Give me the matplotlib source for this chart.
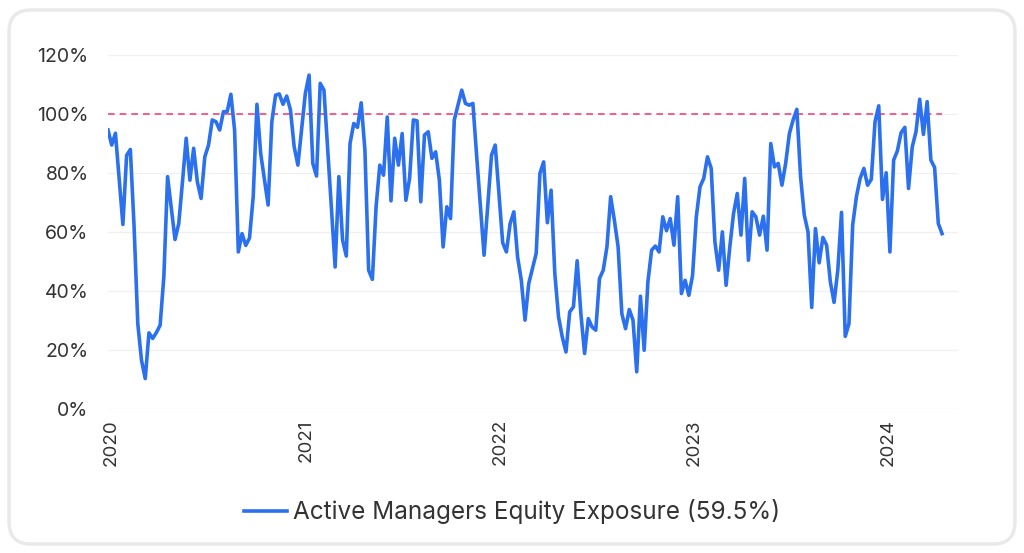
import numpy as np
import pandas as pd
import matplotlib
matplotlib.use("Agg")
import matplotlib.pyplot as plt
import matplotlib.dates as mdates
from matplotlib.patches import FancyBboxPatch
from matplotlib.lines import Line2D
from matplotlib.ticker import FuncFormatter
from matplotlib.transforms import IdentityTransform

plt.rcParams['font.family'] = ['Inter', 'DejaVu Sans']

# weekly readings, first week ending 2019-12-26
start_date = "2019-12-26"
exposure = [
    94.6, 89.5, 93.5, 78.0, 62.6, 86.0, 88.0, 62.0, 29.0, 16.6,
    10.4, 25.9, 24.0, 26.0, 28.5, 44.9, 78.8, 68.0, 57.5, 62.9,
    77.0, 91.8, 77.6, 88.4, 77.0, 71.4, 85.5, 89.5, 98.0, 97.4,
    94.6, 100.8, 100.8, 106.7, 94.6, 53.3, 59.5, 55.5, 58.0, 72.0,
    103.3, 86.7, 78.0, 69.2, 97.4, 106.4, 106.8, 103.3, 106.1, 101.4,
    88.9, 82.7, 95.0, 107.0, 113.2, 83.3, 79.0, 110.4, 108.1, 88.0,
    68.0, 48.2, 78.8, 57.3, 51.9, 90.0, 96.8, 95.5, 103.8, 87.8,
    47.1, 44.0, 68.6, 82.7, 79.3, 99.0, 70.6, 91.8, 82.7, 93.4,
    70.8, 78.2, 98.0, 97.7, 70.3, 92.9, 94.0, 85.0, 87.2, 77.6,
    55.0, 68.6, 64.6, 98.0, 103.0, 108.1, 103.6, 103.0, 103.6, 86.0,
    69.0, 52.2, 69.0, 86.1, 89.5, 73.0, 56.4, 53.3, 62.9, 66.9,
    51.6, 43.7, 30.2, 42.6, 47.7, 52.8, 79.9, 83.8, 63.2, 74.2,
    46.0, 31.3, 24.5, 19.4, 33.0, 34.7, 50.3, 32.4, 18.9, 30.7,
    27.9, 26.8, 44.3, 47.1, 55.0, 72.0, 64.0, 55.0, 32.4, 27.3,
    33.8, 30.2, 12.7, 38.3, 20.0, 43.2, 53.9, 55.3, 53.3, 65.2,
    60.5, 64.6, 55.6, 72.0, 39.2, 43.7, 38.6, 45.4, 65.2, 75.4,
    78.2, 85.5, 81.6, 56.7, 47.1, 60.1, 42.0, 55.0, 66.3, 73.1,
    59.0, 78.2, 50.5, 66.9, 65.2, 59.0, 65.4, 53.9, 90.0, 82.1,
    83.3, 75.9, 83.3, 93.4, 98.0, 101.6, 78.8, 65.8, 60.1, 34.5,
    61.2, 49.6, 58.2, 55.6, 43.2, 36.2, 47.1, 66.7, 24.7, 29.0,
    62.4, 72.0, 78.2, 81.6, 75.9, 77.9, 97.4, 102.8, 71.1, 80.1,
    53.3, 84.4, 87.5, 93.7, 95.5, 74.8, 88.9, 94.0, 105.0, 93.1,
    104.2, 84.4, 81.9, 62.9, 59.5,
]
reference_level = 100
y_ticks = [0, 20, 40, 60, 80, 100, 120]
legend_label = "Active Managers Equity Exposure (59.5%)"

dates = pd.date_range(start_date, periods=len(exposure), freq="7D")

W, H = 1024, 553
fig = plt.figure(figsize=(W / 100, H / 100), dpi=100)
fig.patch.set_facecolor("white")

# rounded card behind the chart
card = FancyBboxPatch((9, 9), W - 18, H - 19,
                      boxstyle="round,pad=0,rounding_size=22",
                      transform=IdentityTransform(),
                      facecolor="white", edgecolor="#e9e9e9", linewidth=2.5,
                      zorder=-10)
fig.patches.append(card)

ax = fig.add_axes([108 / W, 1 - 409.3 / H, 850 / W, (409.3 - 55) / H])
ax.set_facecolor("none")

line_color = "#2b70ee"
ax.plot(dates, exposure, color=line_color, linewidth=2.6, solid_joinstyle="round", zorder=3)
ax.plot([dates[0], dates[-1]], [reference_level, reference_level],
        color="#f0457a", linewidth=1.2, linestyle=(0, (4, 3)), zorder=2)

ax.set_xlim(dates[0], dates[-1] + pd.Timedelta(days=30))
ax.set_ylim(0, 120)
ax.set_yticks(y_ticks)
ax.yaxis.set_major_formatter(FuncFormatter(lambda v, p: f"{v:.0f}%"))
ax.xaxis.set_major_locator(mdates.YearLocator())
ax.xaxis.set_major_formatter(mdates.DateFormatter("%Y"))

ax.grid(axis="y", color="#f0f0f0", linewidth=1)
ax.set_axisbelow(True)
for s in ax.spines.values():
    s.set_visible(False)
ax.tick_params(axis="y", length=0, pad=14, labelsize=14, labelcolor="#333333")
ax.tick_params(axis="x", length=0, pad=7, labelsize=13.5, labelcolor="#333333",
               labelrotation=90)

handle = Line2D([], [], color=line_color, linewidth=2.6)
fig.legend([handle], [legend_label], loc="center", bbox_to_anchor=(0.5, 1 - 512 / H),
           frameon=False, fontsize=17.5, handlelength=1.75, handletextpad=0.25,
           labelcolor="#333333")

fig.savefig("out.png", dpi=100)
